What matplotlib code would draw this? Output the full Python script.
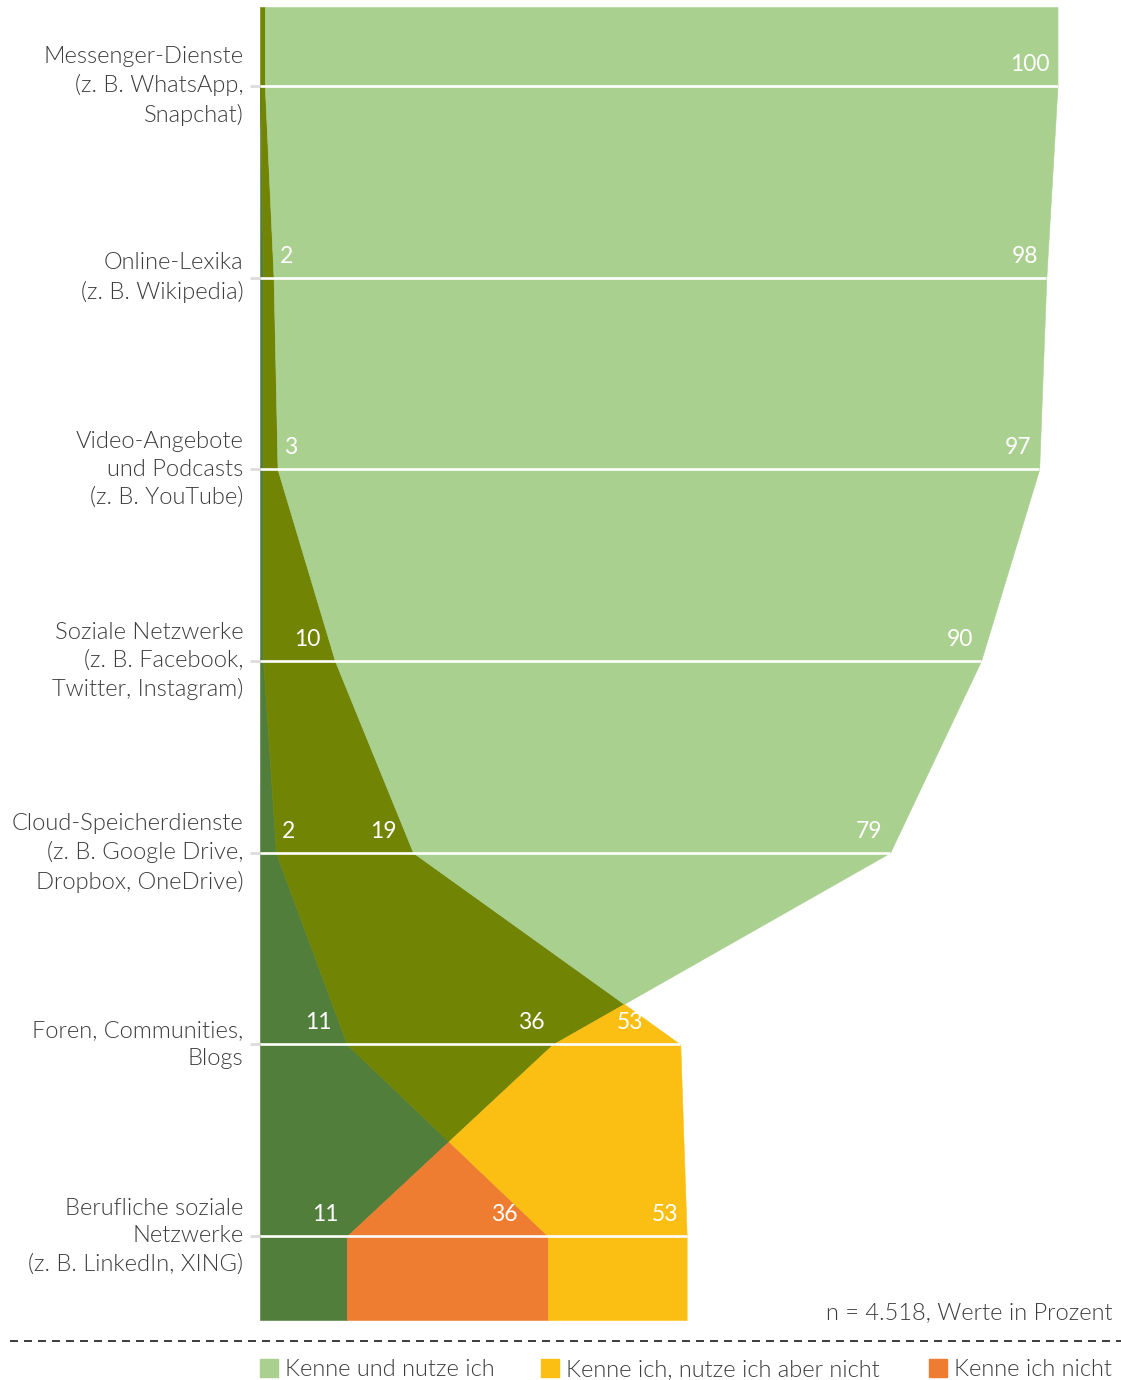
import numpy as np
import matplotlib.pyplot as plt
from matplotlib.patches import Rectangle
from matplotlib.lines import Line2D

# categories (top to bottom)
categories = [
    "Messenger-Dienste\n(z. B. WhatsApp,\nSnapchat)",
    "Online-Lexika\n(z. B. Wikipedia)",
    "Video-Angebote\nund Podcasts\n(z. B. YouTube)",
    "Soziale Netzwerke\n(z. B. Facebook,\nTwitter, Instagram)",
    "Cloud-Speicherdienste\n(z. B. Google Drive,\nDropbox, OneDrive)",
    "Foren, Communities,\nBlogs",
    "Berufliche soziale\nNetzwerke\n(z. B. LinkedIn, XING)",
]

# values in percent as drawn
use_vals = [100, 98.6, 97.7, 90.4, 79.0, 36.7, 10.9]      # Kenne und nutze ich
know_vals = [0.6, 1.7, 2.2, 9.4, 19.2, 52.7, 53.5]         # Kenne ich, nutze ich aber nicht
unknown_vals = [0.0, 0.4, 0.4, 0.4, 2.0, 10.9, 36.1]       # Kenne ich nicht

# printed labels
use_lbl = [100, 98, 97, 90, 79, 36, 11]
know_lbl = [None, 2, 3, 10, 19, 53, 53]
unknown_lbl = [None, None, None, None, 2, 11, 36]

legend_names = ["Kenne und nutze ich", "Kenne ich, nutze ich aber nicht", "Kenne ich nicht"]

C_LIGHT = "#a9d08e"
C_YELLOW = "#fbbf13"
C_ORANGE = "#ee7d31"
C_OLIVE = "#718404"
C_DARK = "#517f3b"
TXT = "#3c3c3c"
FS = 17
LIGHT = 300

W, H = 1121, 1380
plt.rcParams['font.family'] = ['Lato', 'DejaVu Sans']

fig = plt.figure(figsize=(W / 100, H / 100), dpi=100)
ax = fig.add_axes([260 / W, (H - 1320) / H, 797.5 / W, 1313 / H])

rows = np.arange(len(categories))
y_top, y_bot = -0.412, 6.438
ys = np.linspace(y_top, y_bot, 8000)
u = np.interp(ys, rows, use_vals)
k = np.interp(ys, rows, know_vals)
d = np.interp(ys, rows, unknown_vals)

# overlapping areas: colour by which series cover x
regions = [
    (np.zeros_like(ys), np.minimum(np.minimum(u, k), d), C_DARK),   # all three
    (d, np.minimum(u, k), C_OLIVE),                                  # use + know
    (u, np.minimum(k, d), C_ORANGE),                                 # know + unknown
    (k, np.minimum(u, d), C_DARK),                                   # use + unknown
    (np.maximum(k, d), u, C_LIGHT),                                  # use only
    (np.maximum(u, d), k, C_YELLOW),                                 # know only
    (np.maximum(u, k), d, C_ORANGE),                                 # unknown only
]
for lo, hi, col in regions:
    ax.fill_betweenx(ys, lo, hi, where=hi > lo, color=col, lw=0.4,
                     edgecolor=col, zorder=1)

row_max = np.max([use_vals, know_vals, unknown_vals], axis=0)
ax.hlines(rows, 0, row_max, color="white", lw=1.9, zorder=3)

# value labels
for vals, lbls in [(use_vals, use_lbl), (know_vals, know_lbl), (unknown_vals, unknown_lbl)]:
    for i, (v, lb) in enumerate(zip(vals, lbls)):
        if lb is None:
            continue
        if v < 5:
            ax.annotate(str(lb), (v, i), xytext=(6, 15), textcoords="offset pixels",
                        ha="left", va="baseline", color="white", fontsize=16.5, zorder=4)
        else:
            x = min(np.interp(i - 0.11, rows, vals), v)
            ax.annotate(str(lb), (x, i), xytext=(-8, 15), textcoords="offset pixels",
                        ha="right", va="baseline", color="white", fontsize=16.5, zorder=4)

ax.set_xlim(0, 100)
ax.set_ylim(y_bot, y_top)
ax.set_xticks([])
ax.set_yticks(rows)
ax.set_yticklabels(categories, fontsize=FS, color=TXT, fontweight=LIGHT, linespacing=1.4)
ax.tick_params(axis="y", length=7.5, width=2, color="#dcdcdc", pad=4.5)
for lab in ax.get_yticklabels():
    lab.set_verticalalignment("center")
for s in ax.spines.values():
    s.set_visible(False)


def fx(x):
    return x / W


def fy(y):
    return 1 - y / H


fig.text(fx(1113), fy(1319), "n = 4.518, Werte in Prozent", ha="right", va="baseline",
         fontsize=FS, color=TXT, fontweight=LIGHT)
fig.add_artist(Line2D([fx(10), fx(1121)], [fy(1340.5), fy(1340.5)], color=TXT, lw=1.4,
                      dashes=(4.1, 3.1), transform=fig.transFigure))

leg_x = [260, 541, 929]
for x0, name, col in zip(leg_x, legend_names, [C_LIGHT, C_YELLOW, C_ORANGE]):
    fig.add_artist(Rectangle((fx(x0), fy(1377)), 18 / W, 18 / H, color=col,
                             transform=fig.transFigure))
    fig.text(fx(x0 + 25), fy(1376), name, ha="left", va="baseline",
             fontsize=FS, color=TXT, fontweight=LIGHT)

fig.savefig("out.png", dpi=100)
